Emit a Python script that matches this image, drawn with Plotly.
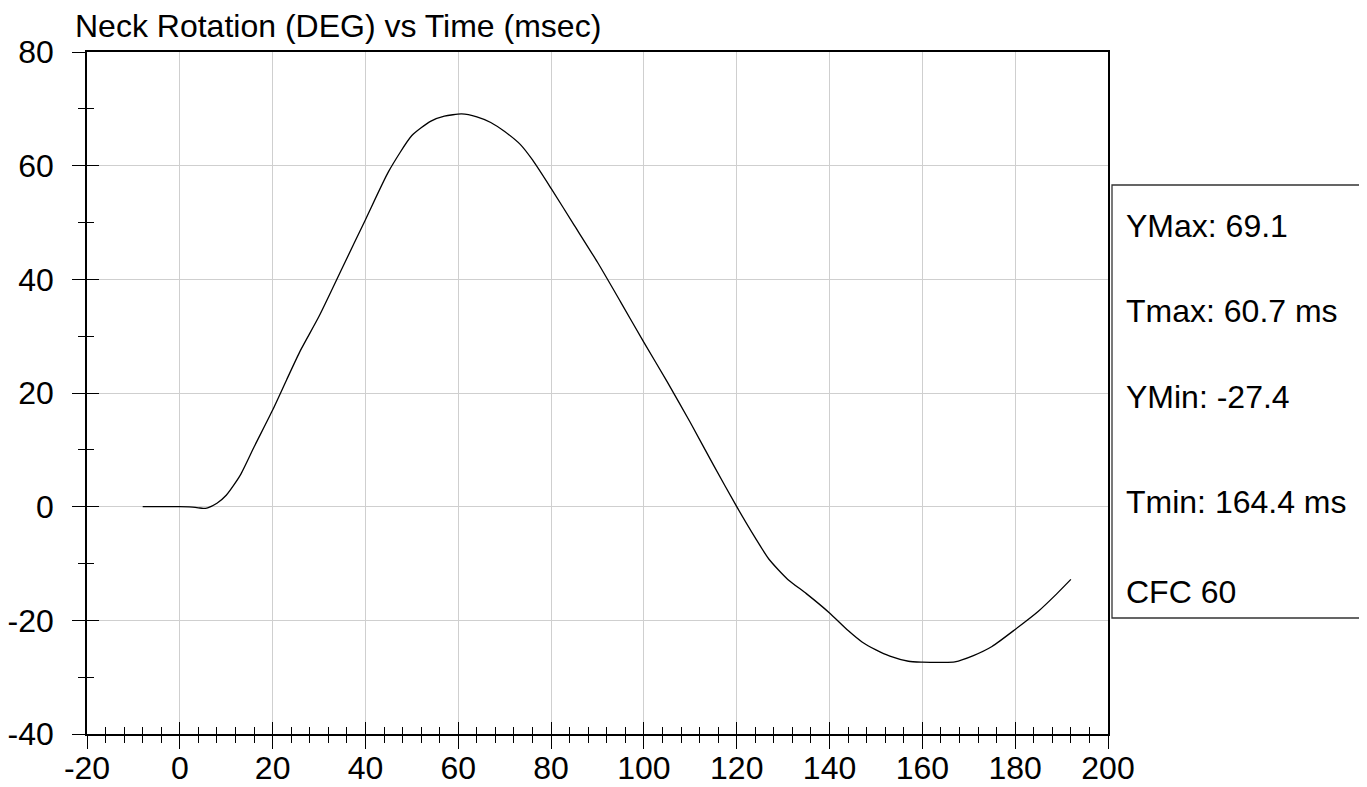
import plotly.graph_objects as go

# Data
time_ms = [-8, -4, 0, 2, 4, 5, 6, 8, 10, 13, 16, 20, 23, 26, 30, 35, 40, 45, 50, 54,
           57, 60.7, 64, 67, 70, 73.4, 76, 80, 85, 90, 95, 100, 105, 110, 115, 120,
           124, 127, 131, 135, 140, 144, 147, 150, 153, 157, 160, 164.4, 167, 171,
           175, 180, 185, 189, 192]
neck_deg = [0, 0, 0, -0.05, -0.2, -0.3, -0.2, 0.6, 2.0, 5.5, 10.5, 17, 22.3, 27.5, 33.5, 42, 50.5,
            59, 65.3, 67.8, 68.7, 69.1, 68.6, 67.6, 66.0, 63.7, 61.0, 56.0, 49.5, 43, 36,
            28.9, 22, 14.8, 7.3, 0, -5.5, -9.3, -12.8, -15.3, -18.7, -21.8, -23.8, -25.2,
            -26.3, -27.2, -27.35, -27.4, -27.3, -26.2, -24.6, -21.6, -18.4, -15.3, -12.8]

stats_labels = ["YMax: 69.1", "Tmax: 60.7 ms", "YMin: -27.4", "Tmin: 164.4 ms", "CFC 60"]
stats_y_px = [226, 311, 397, 502, 592]

title_text = "Neck Rotation (DEG) vs Time (msec)"
x_ticks = list(range(-20, 201, 20))
y_ticks = list(range(-40, 81, 20))

FONT = "Arial, Liberation Sans, sans-serif"
FS = 32

# the page body adds an 8px offset; work in page pixels and convert
OFF = 8
W, H = 1367 - OFF, 787 - OFF
PL, PR, PT, PB = 87, 1108, 52, 734          # plot area in page pixels
L, R, T, B = PL - OFF, W - (PR - OFF), PT - OFF, H - (PB - OFF)
PW, PH = PR - PL, PB - PT


def px_x(p):
    return (p - PL) / PW


def px_y(p):
    return (PB - p) / PH


fig = go.Figure()
fig.add_trace(go.Scatter(x=time_ms, y=neck_deg, mode="lines",
                         line=dict(color="black", width=1.3, shape="spline", smoothing=0.6),
                         showlegend=False, hoverinfo="skip"))
# same data on overlay axes (carries the inward half of the crossing ticks)
fig.add_trace(go.Scatter(x=time_ms, y=neck_deg, mode="lines", xaxis="x2", yaxis="y2",
                         line=dict(color="rgba(0,0,0,0)", width=0),
                         showlegend=False, hoverinfo="skip"))

common_font = dict(family=FONT, size=FS, color="black")

fig.update_layout(
    template="none",
    width=W, height=H, autosize=False,
    margin=dict(l=L, r=R, t=T, b=B, pad=0),
    paper_bgcolor="white", plot_bgcolor="white",
    font=common_font,
    showlegend=False,
    xaxis=dict(range=[-20, 200], tickvals=x_ticks, ticktext=[str(v) for v in x_ticks],
               ticks="outside", ticklen=13, tickwidth=1.3, tickcolor="black",
               minor=dict(dtick=4, ticks="outside", ticklen=7, tickwidth=1.3, tickcolor="black", showgrid=False),
               showgrid=True, gridcolor="#cfcfcf", gridwidth=1, zeroline=False,
               showline=True, linecolor="black", linewidth=1.5, mirror=True,
               tickfont=common_font, ticklabelstandoff=-8, automargin=False),
    yaxis=dict(range=[-40, 80], tickvals=y_ticks, ticktext=[str(v) for v in y_ticks],
               ticks="outside", ticklen=13, tickwidth=1.3, tickcolor="black",
               minor=dict(dtick=10, ticks="outside", ticklen=7, tickwidth=1.3, tickcolor="black", showgrid=False),
               showgrid=True, gridcolor="#cfcfcf", gridwidth=1, zeroline=False,
               showline=True, linecolor="black", linewidth=1.5, mirror=True,
               tickfont=common_font, ticklabelstandoff=12, automargin=False),
    xaxis2=dict(range=[-20, 200], overlaying="x", anchor="y", side="bottom",
                tickvals=x_ticks, ticks="inside", ticklen=12, tickwidth=1.3, tickcolor="black",
                minor=dict(dtick=4, ticks="inside", ticklen=7, tickwidth=1.3, tickcolor="black", showgrid=False),
                showticklabels=False, showgrid=False, zeroline=False, showline=False, automargin=False),
    yaxis2=dict(range=[-40, 80], overlaying="y", anchor="x", side="left",
                tickvals=y_ticks, ticks="inside", ticklen=12, tickwidth=1.3, tickcolor="black",
                minor=dict(dtick=10, ticks="inside", ticklen=7, tickwidth=1.3, tickcolor="black", showgrid=False),
                showticklabels=False, showgrid=False, zeroline=False, showline=False, automargin=False),
)

# Title
fig.add_annotation(text=title_text, xref="paper", yref="paper",
                   x=px_x(73), y=px_y(26), xanchor="left", yanchor="middle",
                   showarrow=False, font=common_font)

# Stats box
fig.add_shape(type="rect", xref="paper", yref="paper",
              x0=px_x(1112), x1=px_x(1362), y0=px_y(618), y1=px_y(185),
              line=dict(color="#333333", width=1.3), fillcolor="white", layer="above")
for lab, yp in zip(stats_labels, stats_y_px):
    fig.add_annotation(text=lab, xref="paper", yref="paper",
                       x=px_x(1124), y=px_y(yp), xanchor="left", yanchor="middle",
                       showarrow=False, font=common_font)

fig.write_html("out.html")
